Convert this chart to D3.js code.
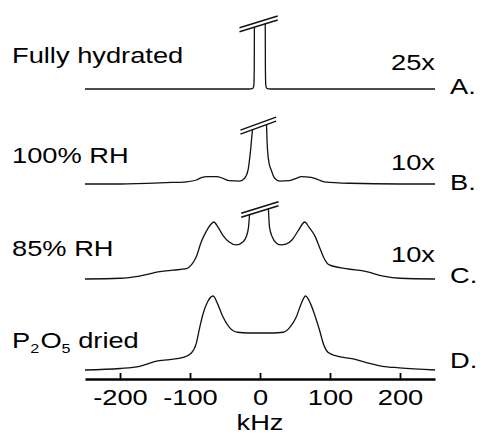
<!DOCTYPE html>
<html>
<head>
<meta charset="utf-8">
<script src="https://cdnjs.cloudflare.com/ajax/libs/d3/7.8.5/d3.min.js"></script>
<style>
body { margin: 0; background: #fff; }
text { font-family: "Liberation Sans", Arial, sans-serif; fill: #000; }
</style>
</head>
<body>
<svg id="mainSVG" width="494" height="443"></svg>
<script>
// labels
var kHzTicks = [-200, -100, 0, 100, 200];
var sampleNames = ["Fully hydrated", "100% RH", "85% RH", "P2O5 dried"];
var gainLabels = ["25x", "10x", "10x", ""];
var panelLetters = ["A.", "B.", "C.", "D."];

// spectra (kHz, relative intensity), central peaks cut at the break marks
var aLeftKHz  = [-250, -15, -11, -9.5, -8.7, -8.2, -8];
var aLeftInt  = [0, 0, 0.5, 2, 6, 30, 83.6];
var aRightKHz = [7.5, 7.7, 8.2, 9, 10.5, 15, 250];
var aRightInt = [88.1, 30, 6, 2, 0.5, 0, 0];

var bLeftKHz  = [-250, -200, -134, -105, -91, -84, -75, -62, -53, -44, -29, -22, -17, -14, -13, -12, -10.7];
var bLeftInt  = [0, 0, 1.8, 3, 5.4, 8.5, 10, 10, 7.7, 4.5, 4, 7.7, 19, 41, 50, 61, 73.5];
var bRightKHz = [9.3, 10.2, 11.2, 13, 16, 21, 28, 42, 52, 59, 73, 82, 92, 128, 200, 250];
var bRightInt = [80.4, 55, 41, 28, 19, 7.7, 4, 4.5, 7.7, 10, 9, 6.3, 3, 1, 0, 0];

var cLeftKHz  = [-250, -200, -172, -143, -124, -105, -98, -91, -84, -77, -71, -66, -60, -53, -44, -34, -24.5, -19.7, -16.4, -15];
var cLeftInt  = [0, 1, 4, 10, 12, 14, 19, 30, 50, 64, 73, 77, 70, 59, 50, 46, 50, 57, 70, 86.9];
var cRightKHz = [12, 13.6, 17.4, 24, 30, 37, 46, 55, 64, 70, 78, 85, 92, 99, 123, 152, 176, 200, 250];
var cRightInt = [94.9, 70, 57, 48, 46, 47, 53, 66, 77, 70, 59, 43, 27, 19, 14, 10, 4, 1, 0];

var dKHz = [-250, -200, -172, -148, -129, -110, -98, -91, -86, -81, -75, -67, -60, -53, -44, -32, -17, 0, 18, 33,
            42, 52, 59, 65, 72, 79, 85, 91, 97, 109, 133, 152, 175, 199, 250];
var dInt = [0, 2, 5, 12, 14, 17, 23, 36, 58, 77, 92, 100, 88, 72, 58, 51, 50, 50, 50, 51,
            57, 72, 90, 100, 90, 72, 54, 34, 24, 19, 15, 10, 5, 3, 0];

// break marks (kHz, intensity)
var breakA = [[-29.3, 77.4], [25.3, 93.2]];
var breakB = [[-28, 67.5], [23, 85]];
var breakC = [[-26.9, 83.4], [26.4, 99]];

var svg = d3.select("#mainSVG");
var stretch = 1.24;
var fs = 22;

var x = d3.scaleLinear().domain([-250, 250]).range([85, 435]);
var y = d3.scaleLinear().domain([0, 100]).range([0, -74]);

var line = d3.line()
    .x(function(d) { return x(d[0]); })
    .y(function(d) { return y(d[1]); })
    .curve(d3.curveMonotoneX);

function zipXY(a, b) { return a.map(function(v, i) { return [v, b[i]]; }); }

var panels = [
  { base: 89,  segs: [zipXY(aLeftKHz, aLeftInt), zipXY(aRightKHz, aRightInt)], brk: breakA },
  { base: 184, segs: [zipXY(bLeftKHz, bLeftInt), zipXY(bRightKHz, bRightInt)], brk: breakB },
  { base: 279, segs: [zipXY(cLeftKHz, cLeftInt), zipXY(cRightKHz, cRightInt)], brk: breakC },
  { base: 370, segs: [zipXY(dKHz, dInt)], brk: null }
];

var nameY = [63, 163, 256, 348];
var gainY = [70, 170, 262, 0];
var letterY = [94, 190, 283, 368];

function label(txt, px, py, anchor) {
  return svg.append("text")
    .attr("transform", "translate(" + px + "," + py + ") scale(" + stretch + ",1)")
    .attr("font-size", fs)
    .attr("text-anchor", anchor || "start")
    .text(txt);
}

panels.forEach(function(p, i) {
  var g = svg.append("g").attr("transform", "translate(0," + p.base + ")");
  p.segs.forEach(function(s) {
    g.append("path").attr("d", line(s))
      .attr("fill", "none").attr("stroke", "#111").attr("stroke-width", 1.3);
  });
  if (p.brk) {
    [0, -4].forEach(function(off) {
      g.append("line")
        .attr("x1", x(p.brk[0][0])).attr("y1", y(p.brk[0][1]) + off)
        .attr("x2", x(p.brk[1][0])).attr("y2", y(p.brk[1][1]) + off)
        .attr("stroke", "#111").attr("stroke-width", 1.4);
    });
  }

  if (i < 3) {
    label(sampleNames[i], 12, nameY[i]);
    label(gainLabels[i], 435, gainY[i], "end");
  }
  label(panelLetters[i], 450, letterY[i]);
});

// P2O5 with subscripts
var pt = svg.append("text")
  .attr("transform", "translate(12," + nameY[3] + ") scale(" + stretch + ",1)")
  .attr("font-size", fs);
pt.append("tspan").text("P");
pt.append("tspan").attr("font-size", 13).attr("dy", 5).text("2");
pt.append("tspan").attr("dy", -5).attr("dx", 1).text("O");
pt.append("tspan").attr("font-size", 13).attr("dy", 5).text("5");
pt.append("tspan").attr("dy", -5).text(" dried");

// axis
var axis = d3.axisBottom(x).tickValues(kHzTicks)
  .tickFormat(function(d) { return String(d); })
  .tickSizeInner(-6).tickSizeOuter(0).tickPadding(10);
var ag = svg.append("g").attr("transform", "translate(0,379)").call(axis);
ag.select(".domain").attr("stroke", "#000").attr("stroke-width", 2.5);
ag.selectAll(".tick line").attr("stroke", "#000").attr("stroke-width", 1.8);
ag.selectAll(".tick text")
  .attr("font-size", fs).attr("font-family", "Liberation Sans, Arial, sans-serif")
  .attr("fill", "#000")
  .attr("transform", "scale(" + stretch + ",1)");

label("kHz", 260, 430, "middle");
</script>
</body>
</html>
